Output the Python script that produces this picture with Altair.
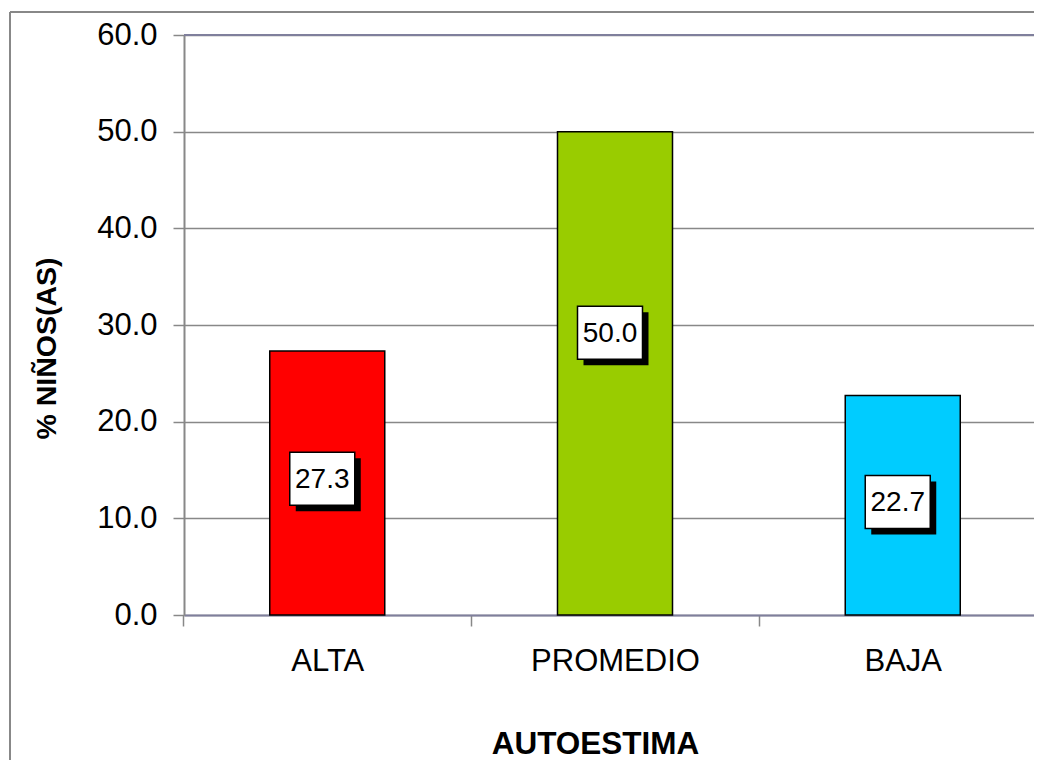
import altair as alt
import pandas as pd

categories = ["ALTA", "PROMEDIO", "BAJA"]
values = [27.3, 50.0, 22.7]
label_anchor = [14.1, 29.2, 11.7]
colors = ["#FF0000", "#99CC00", "#00CCFF"]

df = pd.DataFrame({
    "cat": categories,
    "val": values,
    "lab": label_anchor,
    "txt": [f"{v:.1f}" for v in values],
})

FONT = "Liberation Sans"

xscale = alt.Scale(domain=categories, range=[0, 862], paddingInner=0.6003, paddingOuter=0.298)
yscale = alt.Scale(domain=[0, 60], nice=False)

HALF = 143.9

xaxis = alt.Axis(title="AUTOESTIMA", labelAngle=0, labelFontSize=31, labelFont=FONT,
                 labelColor="black", labelPadding=20, tickSize=11, tickColor="#888888",
                 tickWidth=1.5, tickBand="center", tickOffset=-HALF, labelOffset=HALF,
                 domainColor="#7f7f9c", domainWidth=2,
                 titleFont=FONT, titleFontSize=31.5, titleFontWeight="bold", titleColor="black",
                 titleX=411, titleY=138, titleBaseline="alphabetic", titleAlign="center")
yaxis = alt.Axis(title="% NIÑOS(AS)", values=[0, 10, 20, 30, 40, 50, 60], format=".1f",
                 labelFontSize=31, labelFont=FONT, labelColor="black", labelPadding=16,
                 tickSize=11, tickColor="#888888", tickWidth=1.5, domainColor="#888888",
                 domainWidth=2, grid=True, gridColor="#888888", gridWidth=1.5,
                 titleFont=FONT, titleFontSize=28.5, titleFontWeight="bold", titleColor="black",
                 titleX=-129, titleY=313, titleAngle=270, titleBaseline="alphabetic",
                 titleAlign="center")

X = alt.X("cat:N", scale=xscale, sort=categories, axis=xaxis, title="AUTOESTIMA")

base = alt.Chart(df)

bars = base.mark_bar(stroke="black", strokeWidth=1.5).encode(
    x=X,
    y=alt.Y("val:Q", scale=yscale, axis=yaxis, title="% NIÑOS(AS)"),
    color=alt.Color("cat:N", scale=alt.Scale(domain=categories, range=colors), legend=None),
)

box_path = "M-1,-0.815L1,-0.815L1,0.815L-1,0.815Z"

shadow = base.mark_point(shape=box_path, size=4225, filled=True, fill="black", opacity=1,
                         strokeWidth=0, xOffset=1, yOffset=6).encode(
    x=X,
    y=alt.Y("lab:Q", scale=yscale, axis=yaxis, title="% NIÑOS(AS)"),
)

box = base.mark_point(shape=box_path, size=4225, filled=True, fill="white", stroke="black",
                      strokeWidth=1.5, opacity=1, xOffset=-5).encode(
    x=X,
    y=alt.Y("lab:Q", scale=yscale, axis=yaxis, title="% NIÑOS(AS)"),
)

text = base.mark_text(font=FONT, fontSize=28, color="black", baseline="middle", align="center",
                      xOffset=-5, yOffset=1).encode(
    x=X,
    y=alt.Y("lab:Q", scale=yscale, axis=yaxis, title="% NIÑOS(AS)"),
    text="txt:N",
)

top_line = base.mark_rule(color="#7f7f9c", strokeWidth=2).encode(
    y=alt.value(0)
)

border_left = base.mark_rule(color="#888888", strokeWidth=2).encode(
    x=alt.value(-174), y=alt.value(-23), y2=alt.value(900)
)
border_top = base.mark_rule(color="#888888", strokeWidth=2).encode(
    x=alt.value(-174), x2=alt.value(1000), y=alt.value(-23)
)

chart = alt.layer(bars, shadow, box, text, top_line, border_left, border_top).properties(
    width=850,
    height=580,
    padding={"left": 176, "top": 27, "right": 0, "bottom": 145},
    autosize=alt.AutoSizeParams(type="none"),
).configure_view(stroke=None).configure(background="white")

chart.save("out.html", embed_options={"renderer": "svg", "actions": False})
